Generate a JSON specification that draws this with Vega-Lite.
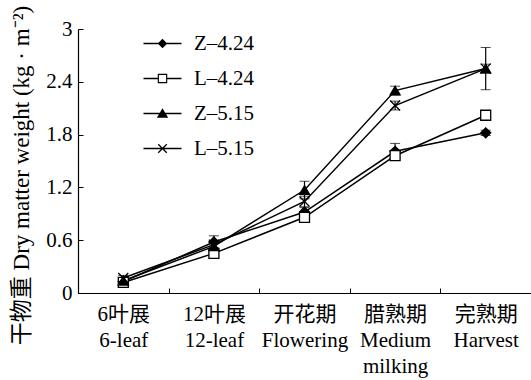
{
  "$schema": "https://vega.github.io/schema/vega-lite/v6.json",
  "width": 453,
  "height": 264,
  "autosize": {"type": "none"},
  "padding": {"left": 78, "top": 29, "right": 0, "bottom": 87},
  "background": "white",
  "config": {
    "view": {"stroke": null},
    "font": "Liberation Serif, Noto Sans CJK SC",
    "axis": {"labelFont": "Liberation Serif, Noto Sans CJK SC", "titleFont": "Liberation Serif, Noto Sans CJK SC", "labelColor": "black", "titleColor": "black", "domainColor": "black", "tickColor": "black", "grid": false},
    "legend": {"labelFont": "Liberation Serif, Noto Sans CJK SC"}
  },
  "data": {
    "values": [
      {"stage": "6叶展|6-leaf", "series": "Z–4.24", "value": 0.13, "err": 0.02},
      {"stage": "12叶展|12-leaf", "series": "Z–4.24", "value": 0.58, "err": 0.07},
      {"stage": "开花期|Flowering", "series": "Z–4.24", "value": 0.92, "err": 0.05},
      {"stage": "腊熟期|Medium|milking", "series": "Z–4.24", "value": 1.61, "err": 0.09},
      {"stage": "完熟期|Harvest", "series": "Z–4.24", "value": 1.82, "err": 0.03},
      {"stage": "6叶展|6-leaf", "series": "L–4.24", "value": 0.12, "err": 0.01},
      {"stage": "12叶展|12-leaf", "series": "L–4.24", "value": 0.45, "err": 0.03},
      {"stage": "开花期|Flowering", "series": "L–4.24", "value": 0.86, "err": 0.04},
      {"stage": "腊熟期|Medium|milking", "series": "L–4.24", "value": 1.56, "err": 0.04},
      {"stage": "完熟期|Harvest", "series": "L–4.24", "value": 2.02, "err": 0.04},
      {"stage": "6叶展|6-leaf", "series": "Z–5.15", "value": 0.14, "err": 0.02},
      {"stage": "12叶展|12-leaf", "series": "Z–5.15", "value": 0.53, "err": 0.05},
      {"stage": "开花期|Flowering", "series": "Z–5.15", "value": 1.17, "err": 0.1},
      {"stage": "腊熟期|Medium|milking", "series": "Z–5.15", "value": 2.3, "err": 0.05},
      {"stage": "完熟期|Harvest", "series": "Z–5.15", "value": 2.55, "err": 0.24},
      {"stage": "6叶展|6-leaf", "series": "L–5.15", "value": 0.17, "err": 0.03},
      {"stage": "12叶展|12-leaf", "series": "L–5.15", "value": 0.55, "err": 0.04},
      {"stage": "开花期|Flowering", "series": "L–5.15", "value": 1.04, "err": 0.06},
      {"stage": "腊熟期|Medium|milking", "series": "L–5.15", "value": 2.13, "err": 0.05},
      {"stage": "完熟期|Harvest", "series": "L–5.15", "value": 2.55, "err": 0.05}
    ]
  },
  "transform": [
    {"calculate": "datum.value - datum.err", "as": "lo"},
    {"calculate": "datum.value + datum.err", "as": "hi"}
  ],
  "encoding": {
    "x": {
      "field": "stage", "type": "nominal",
      "sort": ["6叶展|6-leaf", "12叶展|12-leaf", "开花期|Flowering", "腊熟期|Medium|milking", "完熟期|Harvest"],
      "scale": {"paddingInner": 0, "paddingOuter": 0},
      "axis": {"title": null, "labelAngle": 0, "labelExpr": "split(datum.label, '|')", "labelFontSize": 21, "labelLineHeight": 26, "labelPadding": 15, "tickBand": "extent", "tickSize": -5, "domainWidth": 1.2, "labelBaseline": "top"}
    },
    "y": {
      "field": "value", "type": "quantitative",
      "scale": {"domain": [0, 3], "nice": false},
      "axis": {"title": "干物重 Dry matter weight (kg · m⁻²)", "values": [0, 0.6, 1.2, 1.8, 2.4, 3], "format": "~g", "labelFontSize": 21, "titleFontSize": 23, "titleFontWeight": "normal", "tickSize": -5, "labelPadding": 11, "labelAlign": "right", "domainWidth": 1.2, "titleX": -57, "titleY": 146, "titleBaseline": "middle", "titleAngle": -90}
    }
  },
  "layer": [
    {
      "mark": {"type": "errorbar", "ticks": {"size": 10, "color": "black", "strokeWidth": 1.2}, "rule": {"color": "black", "strokeWidth": 1.2}},
      "encoding": {
        "y": {"field": "lo", "type": "quantitative"},
        "y2": {"field": "hi"},
        "detail": {"field": "series"}
      }
    },
    {
      "mark": {"type": "line", "color": "black", "strokeWidth": 1.5},
      "encoding": {"detail": {"field": "series"}}
    },
    {
      "mark": {"type": "point", "filled": true, "color": "black", "opacity": 0},
      "encoding": {
        "shape": {
          "field": "series", "type": "nominal",
          "scale": {"domain": ["Z–4.24", "L–4.24", "Z–5.15", "L–5.15"], "range": [
            "M-2,-0.07H2V0.07H-2ZM0,-0.5L0.5,0L0,0.5L-0.5,0Z",
            "M-2,-0.07H-0.5V0.07H-2ZM0.5,-0.07H2V0.07H0.5ZM-0.5,-0.5H0.5V0.5H-0.5ZM-0.38,-0.38V0.38H0.38V-0.38Z",
            "M-2,-0.07H2V0.07H-2ZM0,-0.55L0.6,0.45L-0.6,0.45Z",
            "M-2,-0.07H2V0.07H-2ZM-0.4,-0.5L0.5,0.4L0.4,0.5L-0.5,-0.4ZM0.4,-0.5L0.5,-0.4L-0.4,0.5L-0.5,0.4Z"
          ]},
          "legend": {
            "title": null, "orient": "none", "legendX": 74, "legendY": 4, "padding": 0,
            "labelFontSize": 21, "labelColor": "black", "labelOffset": 21, "rowPadding": 13,
            "symbolSize": 361, "symbolOpacity": 1, "symbolFillColor": "black", "symbolStrokeWidth": 0
          }
        }
      }
    },
    {
      "mark": {"type": "point", "stroke": "black", "strokeWidth": 1.3, "opacity": 1, "size": 100},
      "encoding": {
        "shape": {
          "condition": [
            {"test": "datum.series === 'Z–4.24'", "value": "diamond"},
            {"test": "datum.series === 'L–4.24'", "value": "square"},
            {"test": "datum.series === 'Z–5.15'", "value": "triangle-up"}
          ],
          "value": "M-1,-1L1,1M-1,1L1,-1"
        },
        "fill": {
          "condition": [
            {"test": "datum.series === 'L–4.24'", "value": "white"},
            {"test": "datum.series === 'L–5.15'", "value": "transparent"}
          ],
          "value": "black"
        }
      }
    }
  ]
}
